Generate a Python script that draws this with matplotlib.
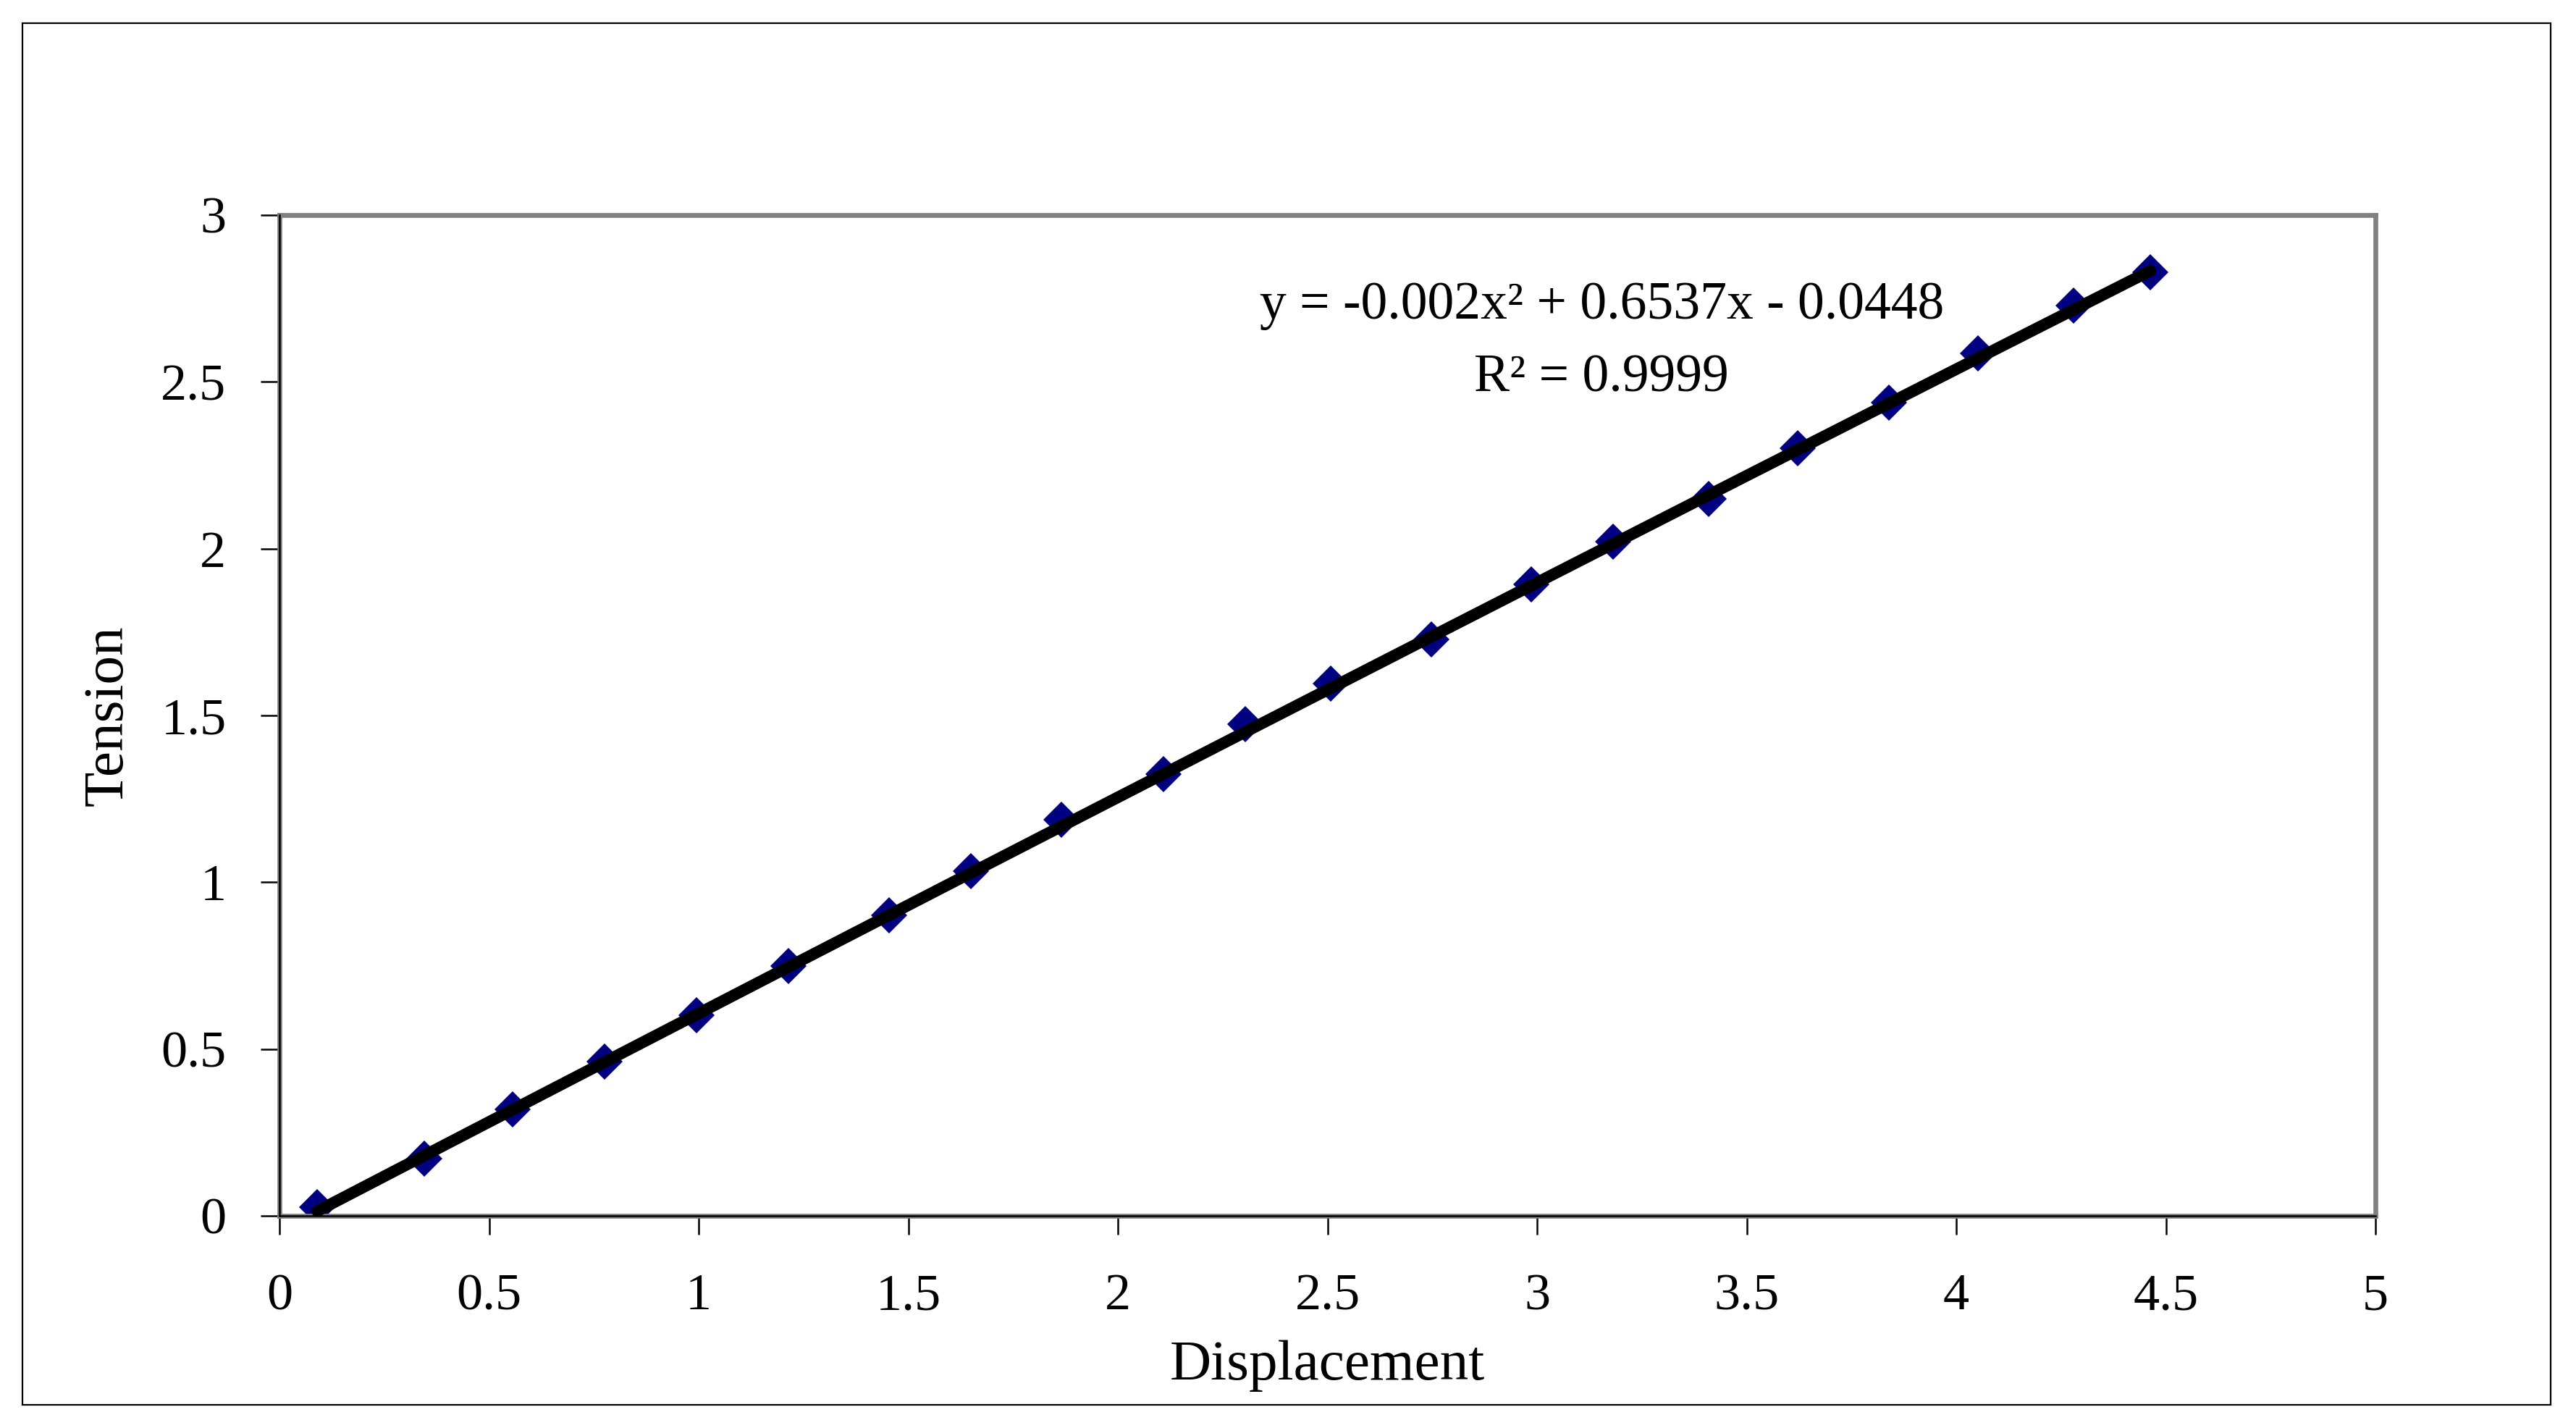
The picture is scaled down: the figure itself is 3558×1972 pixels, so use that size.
import numpy as np
import matplotlib
matplotlib.use("Agg")
import matplotlib.pyplot as plt
from matplotlib.patches import Rectangle

displacement = [0.09, 0.345, 0.556, 0.776, 0.995, 1.215, 1.454, 1.650, 1.865, 2.108, 2.304,
                2.508, 2.747, 2.986, 3.182, 3.409, 3.621, 3.840, 4.052, 4.279, 4.463]
tension = [0.025, 0.172, 0.320, 0.463, 0.601, 0.749, 0.901, 1.034, 1.187, 1.325, 1.473,
           1.596, 1.729, 1.892, 2.020, 2.148, 2.300, 2.438, 2.586, 2.729, 2.828]

# polynomial trend line coefficients as printed on the chart
coef = [-0.002, 0.6537, -0.0448]
eq_text = "y = -0.002x\u00b2 + 0.6537x - 0.0448"
r2_text = "R\u00b2 = 0.9999"

xticks = [0, 0.5, 1, 1.5, 2, 2.5, 3, 3.5, 4, 4.5, 5]
yticks = [0, 0.5, 1, 1.5, 2, 2.5, 3]

plt.rcParams['font.family'] = ['Liberation Serif', 'DejaVu Serif']
fs = 52

W, H = 3558, 1972
fig = plt.figure(figsize=(W / 100, H / 100), dpi=100)
fig.patch.set_facecolor('white')

# outer chart frame
fig.patches.append(Rectangle((31 / W, (H - 1940) / H), (3523 - 31) / W, (1940 - 32) / H,
                             transform=fig.transFigure, fill=False, lw=1.6, ec='black'))

left, right, top, bottom = 386, 3281, 297, 1679
ax = fig.add_axes([left / W, (H - bottom) / H, (right - left) / W, (bottom - top) / H])

xs = np.linspace(displacement[0], displacement[-1], 200)
ax.plot(xs, np.polyval(coef, xs), color='black', lw=11.5, solid_capstyle='round', zorder=3)
ax.plot(displacement, tension, ls='none', marker='D', ms=25, color='#000080',
        markeredgewidth=0, zorder=2)

ax.set_xlim(0, 5)
ax.set_ylim(0, 3)
ax.set_xticks(xticks)
ax.set_yticks(yticks)
ax.set_xticklabels([f"{t:g}" for t in xticks])
ax.set_yticklabels([f"{t:g}" for t in yticks])

for s in ax.spines.values():
    s.set_color('#808080')
    s.set_linewidth(4.8)
ax.axhline(0, color='black', lw=1.8, clip_on=False, zorder=4)
ax.axvline(0, color='black', lw=1.8, clip_on=False, zorder=4)

ax.tick_params(direction='out', length=19, width=1.8, color='black', labelsize=fs, pad=38)
ax.tick_params(axis='y', pad=34)

ax.set_xlabel("Displacement", fontsize=57, labelpad=20)
ax.set_ylabel("Tension", fontsize=57, labelpad=26)

ax.text(3.154, 2.729, eq_text, fontsize=fs + 1, ha='center', va='center')
ax.text(3.154, 2.511, r2_text, fontsize=fs + 1, ha='center', va='center')

fig.savefig("out.png", dpi=100, facecolor='white')
